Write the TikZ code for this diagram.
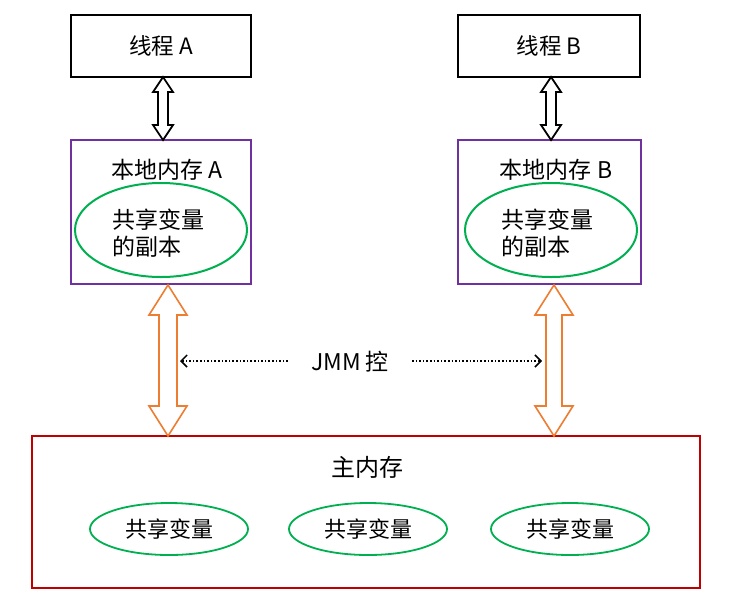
\documentclass[tikz,border=0pt]{standalone}
\usepackage{fontspec}
\setmainfont{Noto Sans CJK SC}
\usetikzlibrary{calc,arrows.meta,shapes.geometric}
\definecolor{cpurple}{HTML}{7030A0}
\definecolor{cgreen}{HTML}{00B050}
\definecolor{corange}{HTML}{ED7D31}
\definecolor{cred}{HTML}{C00000}
\newcommand\blockdbl[6]{%
  \draw[#1] let \p1=(#2), \p2=(#3) in
   (\x1,\y1) -- (\x1+#4pt,\y1-#6pt) -- (\x1+#5pt,\y1-#6pt) -- (\x1+#5pt,\y2+#6pt)
   -- (\x1+#4pt,\y2+#6pt) -- (\x1,\y2) -- (\x1-#4pt,\y2+#6pt) -- (\x1-#5pt,\y2+#6pt)
   -- (\x1-#5pt,\y1-#6pt) -- (\x1-#4pt,\y1-#6pt) -- cycle;}
\tikzset{
  thread/.style={draw=black, line width=2pt, minimum width=180pt, minimum height=62pt, inner sep=0pt, font=\fontsize{22.5}{26}\selectfont},
  localbox/.style={draw=cpurple, line width=2pt, minimum height=144pt, inner sep=0pt},
  label19/.style={inner sep=0pt, font=\fontsize{23}{27}\selectfont},
  copyell/.style={draw=cgreen, line width=2pt, ellipse, minimum width=172pt, minimum height=94pt, inner sep=0pt},
  smallell/.style={draw=cgreen, line width=1.8pt, ellipse, minimum width=158pt, minimum height=52pt, inner sep=0pt, font=\fontsize{22}{26}\selectfont},
  copytext/.style={inner sep=0pt, align=left, anchor=west, font=\fontsize{23}{27}\selectfont},
  dotarrow/.style={dotted, line width=1.6pt, -{Straight Barb[length=6pt,width=12pt,line width=1.5pt]}},
}
\begin{document}
\begin{tikzpicture}[x=1pt,y=-1pt]
\useasboundingbox (0,0) rectangle (738,611);
% threads
\node[thread] (tA) at (161,46) {线程 A};
\node[thread, minimum width=182pt] (tB) at (549,46) {线程 B};
% local memories
\node[localbox, minimum width=180pt] (lA) at (161,212) {};
\node[localbox, minimum width=183pt] (lB) at (549.5,212) {};
\node[label19] (lAt) at (167,170) {本地内存 A};
\node[label19] (lBt) at (556,170) {本地内存 B};
\node[copyell] (eA) at (161,230) {};
\node[copyell] (eB) at (551,230) {};
\node[copytext] (eAt) at (112,233) {共享变量\\的副本};
\node[copytext] (eBt) at (501,233) {共享变量\\的副本};
% main memory
\node[draw=cred, line width=2pt, minimum width=668pt, minimum height=152pt, inner sep=0pt] (mm) at (366,512) {};
\node[inner sep=0pt, font=\fontsize{24}{28}\selectfont] (mmt) at (367,467) {主内存};
\node[smallell] (v1) at (169,529) {共享变量};
\node[smallell] (v2) at (368,529) {共享变量};
\node[smallell] (v3) at (570,529) {共享变量};
% black double arrows
\coordinate (aAt) at (163,77); \coordinate (aAb) at (163,140);
\coordinate (aBt) at (551,77); \coordinate (aBb) at (551,140);
\blockdbl{draw=black, line width=1.8pt, fill=white}{aAt}{aAb}{10}{5}{15}
\blockdbl{draw=black, line width=1.8pt, fill=white}{aBt}{aBb}{10}{5}{15}
% orange double arrows
\coordinate (oAt) at (168,285); \coordinate (oAb) at (168,436);
\coordinate (oBt) at (554,285); \coordinate (oBb) at (554,436);
\blockdbl{draw=corange, line width=1.6pt, fill=white}{oAt}{oAb}{19}{9}{30}
\blockdbl{draw=corange, line width=1.6pt, fill=white}{oBt}{oBb}{19}{8}{30}
% JMM
\node[inner sep=0pt, font=\fontsize{23}{27}\selectfont] (jmm) at (350,362) {JMM 控};
\coordinate (dLs) at (288,361); \coordinate (dLe) at (180,361);
\coordinate (dRs) at (412,361); \coordinate (dRe) at (542,361);
\draw[dotarrow] (dLs) -- (dLe);
\draw[dotarrow] (dRs) -- (dRe);
\end{tikzpicture}
\end{document}
